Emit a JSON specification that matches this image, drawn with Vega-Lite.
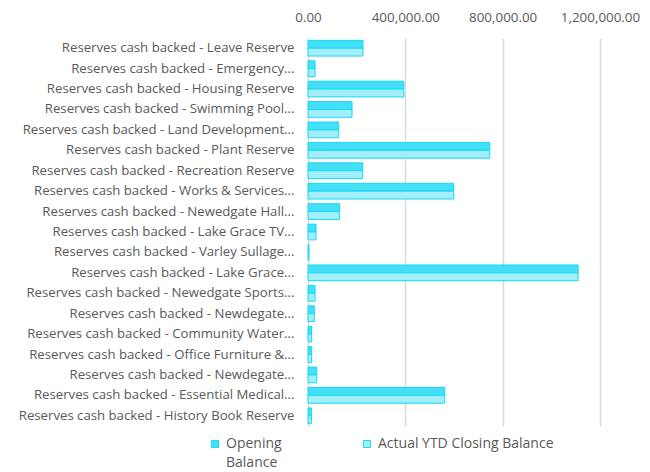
{
  "$schema": "https://vega.github.io/schema/vega-lite/v6.json",
  "autosize": {"type": "none"},
  "padding": {"left": 308, "top": 38, "right": 50, "bottom": 46},
  "width": 292,
  "height": 388,
  "background": "white",
  "config": {
    "font": "Open Sans",
    "view": {"stroke": null},
    "style": {"guide-label": {"lineHeight": 19}}
  },
  "data": {
    "values": [
      {"row": "01|Reserves cash backed - Leave Reserve", "series": "Opening Balance", "value": 226000},
      {"row": "01|Reserves cash backed - Leave Reserve", "series": "Actual YTD Closing Balance", "value": 226000},
      {"row": "02|Reserves cash backed - Emergency...", "series": "Opening Balance", "value": 29000},
      {"row": "02|Reserves cash backed - Emergency...", "series": "Actual YTD Closing Balance", "value": 29000},
      {"row": "03|Reserves cash backed - Housing Reserve", "series": "Opening Balance", "value": 394000},
      {"row": "03|Reserves cash backed - Housing Reserve", "series": "Actual YTD Closing Balance", "value": 394000},
      {"row": "04|Reserves cash backed - Swimming Pool...", "series": "Opening Balance", "value": 181000},
      {"row": "04|Reserves cash backed - Swimming Pool...", "series": "Actual YTD Closing Balance", "value": 181000},
      {"row": "05|Reserves cash backed - Land Development...", "series": "Opening Balance", "value": 126000},
      {"row": "05|Reserves cash backed - Land Development...", "series": "Actual YTD Closing Balance", "value": 126000},
      {"row": "06|Reserves cash backed - Plant Reserve", "series": "Opening Balance", "value": 747000},
      {"row": "06|Reserves cash backed - Plant Reserve", "series": "Actual YTD Closing Balance", "value": 747000},
      {"row": "07|Reserves cash backed - Recreation Reserve", "series": "Opening Balance", "value": 225000},
      {"row": "07|Reserves cash backed - Recreation Reserve", "series": "Actual YTD Closing Balance", "value": 225000},
      {"row": "08|Reserves cash backed - Works & Services...", "series": "Opening Balance", "value": 599000},
      {"row": "08|Reserves cash backed - Works & Services...", "series": "Actual YTD Closing Balance", "value": 599000},
      {"row": "09|Reserves cash backed - Newedgate Hall...", "series": "Opening Balance", "value": 130000},
      {"row": "09|Reserves cash backed - Newedgate Hall...", "series": "Actual YTD Closing Balance", "value": 130000},
      {"row": "10|Reserves cash backed - Lake Grace TV...", "series": "Opening Balance", "value": 33000},
      {"row": "10|Reserves cash backed - Lake Grace TV...", "series": "Actual YTD Closing Balance", "value": 33000},
      {"row": "11|Reserves cash backed - Varley Sullage...", "series": "Opening Balance", "value": 4000},
      {"row": "11|Reserves cash backed - Varley Sullage...", "series": "Actual YTD Closing Balance", "value": 4000},
      {"row": "12|Reserves cash backed - Lake Grace...", "series": "Opening Balance", "value": 1110000},
      {"row": "12|Reserves cash backed - Lake Grace...", "series": "Actual YTD Closing Balance", "value": 1110000},
      {"row": "13|Reserves cash backed - Newedgate Sports...", "series": "Opening Balance", "value": 29000},
      {"row": "13|Reserves cash backed - Newedgate Sports...", "series": "Actual YTD Closing Balance", "value": 29000},
      {"row": "14|Reserves cash backed - Newdegate...", "series": "Opening Balance", "value": 26000},
      {"row": "14|Reserves cash backed - Newdegate...", "series": "Actual YTD Closing Balance", "value": 26000},
      {"row": "15|Reserves cash backed - Community Water...", "series": "Opening Balance", "value": 15000},
      {"row": "15|Reserves cash backed - Community Water...", "series": "Actual YTD Closing Balance", "value": 15000},
      {"row": "16|Reserves cash backed - Office Furniture &...", "series": "Opening Balance", "value": 15000},
      {"row": "16|Reserves cash backed - Office Furniture &...", "series": "Actual YTD Closing Balance", "value": 15000},
      {"row": "17|Reserves cash backed - Newdegate...", "series": "Opening Balance", "value": 36000},
      {"row": "17|Reserves cash backed - Newdegate...", "series": "Actual YTD Closing Balance", "value": 36000},
      {"row": "18|Reserves cash backed - Essential Medical...", "series": "Opening Balance", "value": 562000},
      {"row": "18|Reserves cash backed - Essential Medical...", "series": "Actual YTD Closing Balance", "value": 562000},
      {"row": "19|Reserves cash backed - History Book Reserve", "series": "Opening Balance", "value": 14000},
      {"row": "19|Reserves cash backed - History Book Reserve", "series": "Actual YTD Closing Balance", "value": 14000}
    ]
  },
  "mark": {"type": "bar", "strokeWidth": 1, "stroke": "#12DAF5"},
  "encoding": {
    "y": {
      "field": "row",
      "type": "nominal",
      "sort": "ascending",
      "scale": {"paddingInner": 0.23, "paddingOuter": 0.115},
      "axis": {
        "title": null,
        "labelExpr": "split(datum.value, '|')[1]",
        "labelFont": "Open Sans",
        "labelFontSize": 13.2,
        "labelColor": "#595959",
        "labelLimit": 320,
        "labelPadding": 14,
        "ticks": false,
        "domain": false
      }
    },
    "yOffset": {
      "field": "series",
      "type": "nominal",
      "sort": ["Opening Balance", "Actual YTD Closing Balance"],
      "scale": {"paddingInner": 0, "paddingOuter": 0}
    },
    "x": {
      "field": "value",
      "type": "quantitative",
      "scale": {"domain": [0, 1200000], "nice": false},
      "axis": {
        "orient": "top",
        "title": null,
        "values": [0, 400000, 800000, 1200000],
        "format": ",.2f",
        "labelFont": "Open Sans",
        "labelFontSize": 13.4,
        "labelColor": "#595959",
        "labelPadding": 14,
        "labelFlush": false,
        "ticks": false,
        "domain": false,
        "grid": true,
        "gridColor": "#D9D9D9",
        "gridWidth": 1.5
      }
    },
    "fill": {
      "field": "series",
      "type": "nominal",
      "sort": ["Opening Balance", "Actual YTD Closing Balance"],
      "scale": {"domain": ["Opening Balance", "Actual YTD Closing Balance"], "range": ["#45E0F7", "#A3EEFA"]},
      "legend": {
        "title": null,
        "orient": "none",
        "legendX": -100,
        "legendY": 399,
        "direction": "horizontal",
        "symbolType": "square",
        "symbolSize": 50,
        "symbolStrokeColor": "#12DAF5",
        "symbolStrokeWidth": 1,
        "labelFont": "Open Sans",
        "labelFontSize": 14,
        "labelColor": "#595959",
        "labelOffset": 4,
        "labelLimit": 400,
        "columnPadding": 78,
        "labelExpr": "datum.label == 'Opening Balance' ? ['Opening', 'Balance'] : [datum.label, '']"
      }
    }
  }
}
